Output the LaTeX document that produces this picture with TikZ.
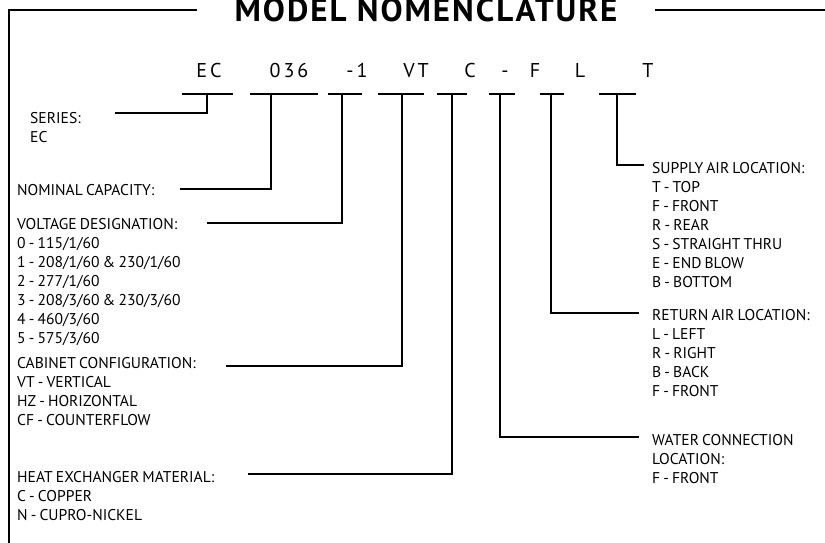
\documentclass[tikz,border=0pt]{standalone}
\usepackage{fontspec}
\setmainfont{PT Sans}
\newfontfamily\descfont[WordSpace=0.75]{PT Sans}
\usetikzlibrary{positioning}

\begin{document}
\begin{tikzpicture}[
  x=1pt,y=-1pt,
  rule/.style={line width=2pt},
  heading/.style={font=\fontsize{33}{33}\selectfont\bfseries\addfontfeature{LetterSpace=6},inner xsep=37pt,inner ysep=0pt},
  code/.style={font=\fontsize{20}{20}\selectfont\addfontfeature{LetterSpace=15},anchor=base,inner sep=0pt},
  desc/.style={font=\descfont\fontsize{15.6}{19}\selectfont,align=left,anchor=north west,inner sep=0pt}
]
\useasboundingbox (0,0) rectangle (825,542);

% frame and title
\node[heading] (title) at (426,10) {MODEL NOMENCLATURE};
\draw[rule] (title.west) -| (9,548);
\draw[rule] (title.east) -- ++(180,0);

% model code
\node[code] (ec)   at (209,77) {EC};
\node[code] (size) at (289,77) {036};
\node[code] (volt) at (357,77) {-1};
\node[code] (cab)  at (416,77) {VT};
\node[code] (hx)   at (470,77) {C};
\node[code] (sep)  at (505,77) {-};
\node[code] (wat)  at (535,77) {F};
\node[code] (ret)  at (580,77) {L};
\node[code] (sup)  at (648,77) {T};

% descriptions
\node[desc] (series)  at (30,112) {SERIES:\\EC};
\node[desc] (nomcap)  at (17,184) {NOMINAL CAPACITY:};
\node[desc] (voltage) at (17,218) {VOLTAGE DESIGNATION:\\0 - 115/1/60\\1 - 208/1/60 \& 230/1/60\\2 - 277/1/60\\3 - 208/3/60 \& 230/3/60\\4 - 460/3/60\\5 - 575/3/60};
\node[desc] (cabinet) at (17,357) {CABINET CONFIGURATION:\\VT - VERTICAL\\HZ - HORIZONTAL\\CF - COUNTERFLOW};
\node[desc] (heatex)  at (17,471) {HEAT EXCHANGER MATERIAL:\\C - COPPER\\N - CUPRO-NICKEL};
\node[desc] (supply)  at (652,162) {SUPPLY AIR LOCATION:\\T - TOP\\F - FRONT\\R - REAR\\S - STRAIGHT THRU\\E - END BLOW\\B - BOTTOM};
\node[desc] (return)  at (652,309) {RETURN AIR LOCATION:\\L - LEFT\\R - RIGHT\\B - BACK\\F - FRONT};
\node[desc] (water)   at (652,434) {WATER CONNECTION\\LOCATION:\\F - FRONT};

% underlines
\draw[rule] (182,94) -- (233,94);
\draw[rule] (250,94) -- (318,94);
\draw[rule] (328,94) -- (362,94);
\draw[rule] (378,94) -- (424,94);
\draw[rule] (437,94) -- (467,94);
\draw[rule] (489,94) -- (515,94);
\draw[rule] (540,94) -- (564,94);
\draw[rule] (599,94) -- (636,94);

% leaders
\coordinate (ec-t)  at (207,94);  \coordinate (ec-e)  at (115,113);
\coordinate (sz-t)  at (271,94);  \coordinate (sz-e)  at (180,189);
\coordinate (vo-t)  at (342,94);  \coordinate (vo-e)  at (207,223);
\coordinate (cb-t)  at (402,94);  \coordinate (cb-e)  at (226,366);
\coordinate (hx-t)  at (452,94);  \coordinate (hx-e)  at (248,474);
\coordinate (wa-t)  at (500,94);  \coordinate (wa-e)  at (639,437);
\coordinate (re-t)  at (551,94);  \coordinate (re-e)  at (639,313);
\coordinate (su-t)  at (617,94);  \coordinate (su-e)  at (644,165);
\draw[rule] (ec-t) |- (ec-e);
\draw[rule] (sz-t) |- (sz-e);
\draw[rule] (vo-t) |- (vo-e);
\draw[rule] (cb-t) |- (cb-e);
\draw[rule] (hx-t) |- (hx-e);
\draw[rule] (wa-t) |- (wa-e);
\draw[rule] (re-t) |- (re-e);
\draw[rule] (su-t) |- (su-e);
\end{tikzpicture}
\end{document}
